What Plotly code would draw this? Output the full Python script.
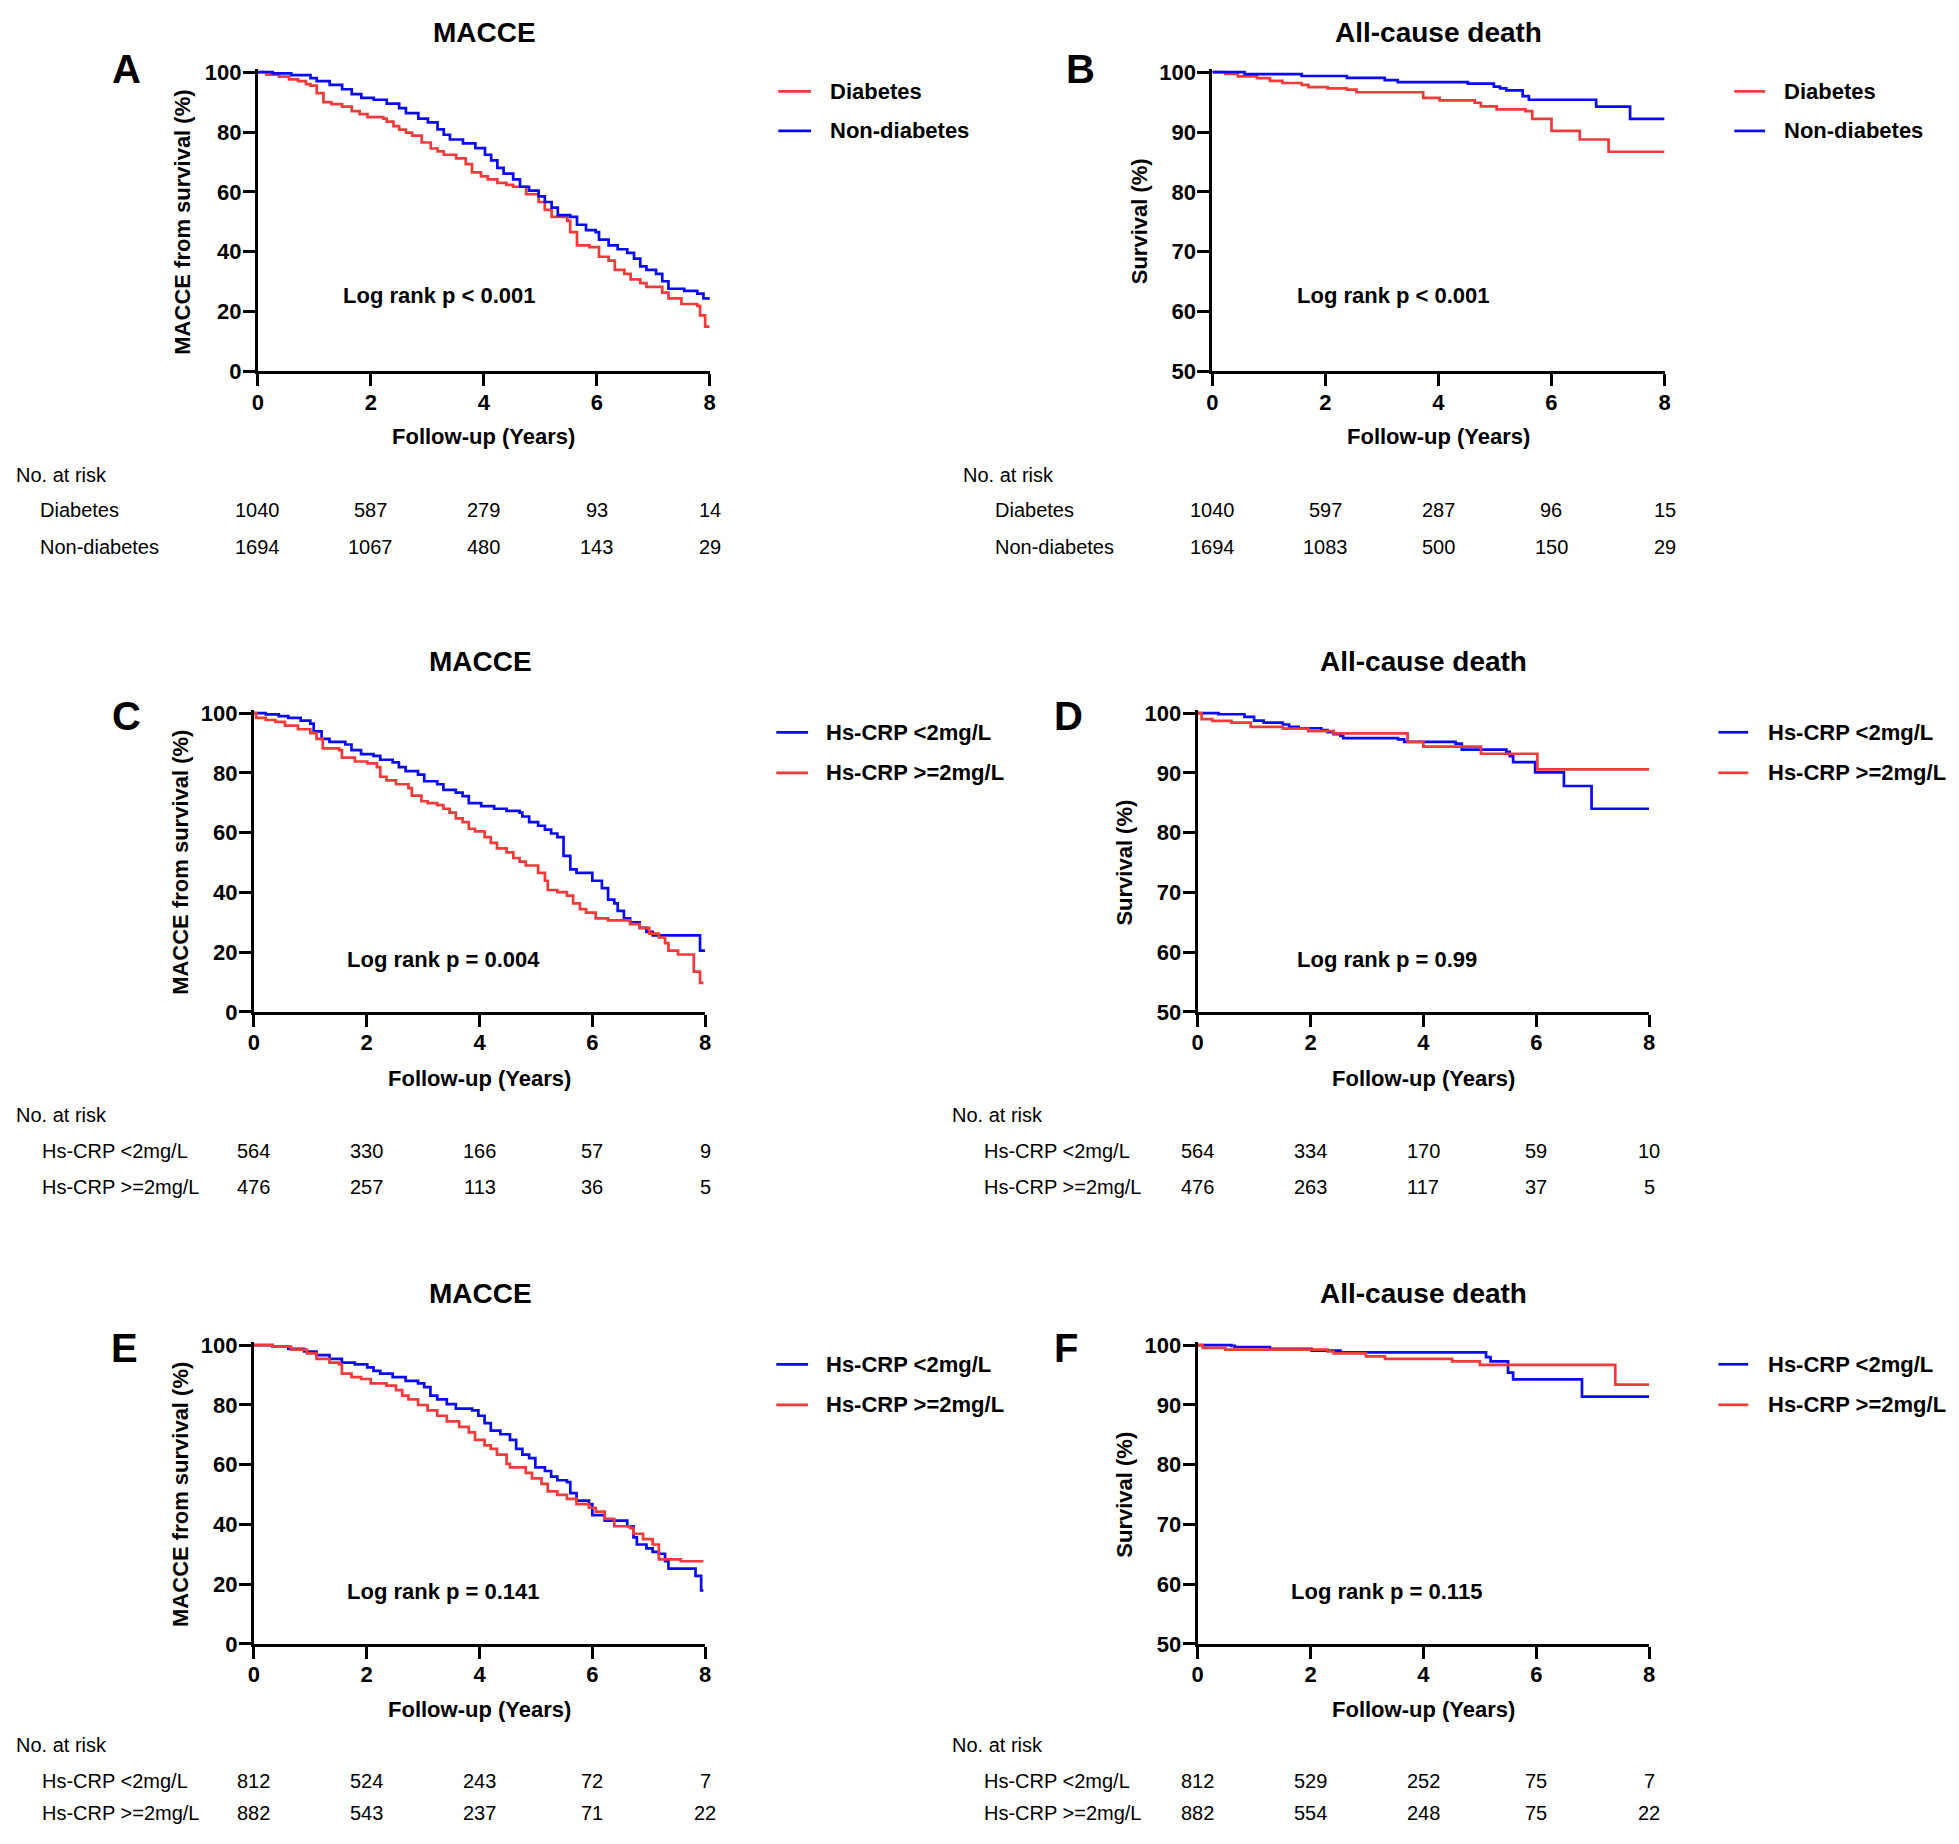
import plotly.graph_objects as go

W, H = 1959, 1844          # target page size
OFF = 8                    # default body margin of the page
FW, FH = 1943, 1828        # figure size so that figure + margins fits the page exactly
RED = "#F23A3A"
BLUE = "#0A0AF5"
FONT = "Liberation Sans, Arial, Helvetica, sans-serif"

TIME_TICKS = [0, 2, 4, 6, 8]

# ---------------- Panel A : MACCE, diabetes vs non-diabetes ----------------
A_DIAB_T = [0, 0.15, 0.37, 0.55, 0.71, 0.85, 0.93, 1.04, 1.16, 1.3, 1.49, 1.66, 1.8, 1.94, 2.22, 2.28,
            2.4, 2.5, 2.62, 2.73, 2.9, 3.06, 3.18, 3.29, 3.51, 3.68, 3.79, 3.95, 4.07, 4.24, 4.4, 4.52,
            4.75, 4.97, 5.08, 5.2, 5.48, 5.53, 5.65, 5.87, 6.04, 6.21, 6.32, 6.49, 6.6, 6.77, 6.88, 7.16,
            7.27, 7.5, 7.78, 7.83, 7.92, 8.0]
A_DIAB_S = [100, 99.2, 98.5, 97.6, 97, 96, 95.5, 93, 90, 89.3, 88.5, 87, 86, 85, 84.5, 83.5,
            82, 80.8, 79.8, 78.8, 76.5, 74.5, 73.5, 72.4, 71.2, 69.3, 66.5, 65.2, 64.2, 63, 62.3, 61.7,
            59.2, 56.6, 54, 51.6, 50.3, 46.5, 42.1, 41.5, 38.3, 37, 33.9, 32.6, 30.7, 29.5, 28.2, 26.3,
            24.4, 22.5, 21.9, 18.7, 14.9, 14.9]
A_NOND_T = [0, 0.26, 0.59, 0.93, 1.04, 1.27, 1.49, 1.66, 1.83, 2.05, 2.28, 2.5, 2.62, 2.84, 3.01, 3.18,
            3.29, 3.4, 3.63, 3.85, 4.02, 4.13, 4.24, 4.35, 4.52, 4.64, 4.8, 4.97, 5.08, 5.2, 5.31, 5.53,
            5.65, 5.81, 5.98, 6.04, 6.21, 6.37, 6.54, 6.66, 6.77, 6.88, 7.05, 7.16, 7.27, 7.55, 7.78,
            7.89, 8.0]
A_NOND_S = [100, 99.6, 99, 98, 97, 95.8, 94.3, 92.7, 91.4, 90.8, 89.5, 88, 86.3, 84.5, 83.2, 80.9,
            79.1, 77.5, 76.2, 74.6, 72.4, 70.5, 68, 66.1, 64.2, 61.7, 60.4, 58.5, 56.6, 54.7, 52.2, 51.6,
            49, 47.2, 46.5, 44, 42.1, 40.8, 39.6, 37.7, 35.1, 33.9, 32.6, 30.1, 27.6, 26.9, 26,
            24.4, 23.8]

# ---------------- Panel B : all-cause death, diabetes vs non-diabetes ----------------
B_DIAB_T = [0, 0.23, 0.45, 0.79, 1.02, 1.24, 1.58, 1.7, 2.04, 2.38, 2.55, 3.73, 4.02, 4.64, 4.75, 5.03,
            5.54, 5.66, 6.0, 6.5, 7.01, 8.0]
B_DIAB_S = [100, 99.7, 99.3, 99.0, 98.55, 98.2, 97.9, 97.5, 97.3, 97.1, 96.65, 95.7, 95.3, 94.9, 94.3, 93.8,
            93.5, 92.2, 90.2, 88.75, 86.7, 86.7]
B_NOND_T = [0, 0.57, 1.58, 2.38, 3.05, 3.28, 4.52, 4.98, 5.09, 5.2, 5.49, 5.6, 6.79, 7.39, 8.0]
B_NOND_S = [100, 99.68, 99.37, 99.05, 98.67, 98.36, 98.1, 97.6, 97.3, 96.97, 96.0, 95.4, 94.25, 92.2, 92.2]

# ---------------- Panel C : MACCE, Hs-CRP groups ----------------
C_LOW_T = [0, 0.21, 0.44, 0.61, 0.83, 1.0, 1.06, 1.2, 1.34, 1.62, 1.73, 1.9, 2.12, 2.24, 2.46, 2.57,
           2.69, 2.91, 3.02, 3.25, 3.36, 3.58, 3.7, 3.81, 4.03, 4.26, 4.48, 4.71, 4.76, 4.88, 5.04, 5.16,
           5.27, 5.38, 5.49, 5.61, 5.72, 6.0, 6.17, 6.28, 6.39, 6.45, 6.56, 6.67, 6.84, 6.96, 7.07, 7.91,
           8.0]
C_LOW_S = [100, 99.6, 99.0, 98.4, 97.5, 96.5, 93.9, 91.4, 90.4, 89.5, 87.6, 86.3, 85.7, 84.4, 83.5, 81.9,
           80.6, 79.4, 77.2, 76.2, 74.3, 73.4, 72.2, 69.9, 68.9, 68.0, 67.3, 66.7, 65.4, 63.5, 62.3, 61.0,
           59.7, 58.5, 52.2, 47.7, 46.5, 43.9, 41.4, 37.6, 36.3, 33.8, 31.3, 30.0, 28.1, 26.8, 25.6, 20.5,
           20.5]
C_HIGH_T = [0, 0.04, 0.21, 0.38, 0.55, 0.78, 1.0, 1.11, 1.22, 1.51, 1.56, 1.79, 2.01, 2.18, 2.24, 2.35,
            2.52, 2.74, 2.8, 2.97, 3.08, 3.25, 3.36, 3.47, 3.58, 3.7, 3.81, 3.92, 4.09, 4.2, 4.31, 4.48,
            4.6, 4.71, 4.82, 5.04, 5.16, 5.21, 5.38, 5.55, 5.66, 5.78, 5.89, 6.06, 6.28, 6.67, 6.84, 7.01,
            7.18, 7.29, 7.35, 7.52, 7.8, 7.91, 7.97]
C_HIGH_S = [100, 98.4, 97.7, 97.1, 95.8, 94.6, 93.3, 91.4, 88.2, 87.6, 85.1, 83.8, 83.2, 81.9, 78.7, 77.5,
            76.2, 74.9, 72.4, 70.5, 69.9, 69.2, 68.0, 66.7, 64.8, 63.5, 61.3, 60.4, 58.5, 56.6, 54.7, 53.4,
            51.5, 50.3, 49.0, 46.5, 43.9, 40.8, 40.1, 38.9, 36.3, 34.4, 33.2, 31.3, 30.6, 29.4, 28.1, 26.2,
            24.9, 23.0, 20.5, 19.2, 13.5, 9.7, 9.7]

# ---------------- Panel D : all-cause death, Hs-CRP groups ----------------
D_LOW_T = [0, 0.37, 0.83, 1.0, 1.17, 1.51, 1.62, 1.79, 2.19, 2.3, 2.41, 2.53, 2.58, 3.55, 3.66, 4.57,
           4.68, 5.47, 5.53, 5.59, 5.98, 6.49, 6.98, 8.0]
D_LOW_S = [100, 99.81, 99.37, 98.73, 98.42, 98.1, 97.7, 97.47, 97.15, 96.8, 96.5, 96.2, 95.8, 95.6, 95.2, 94.9,
           93.9, 93.5, 92.8, 91.8, 90.1, 87.8, 84.0, 84.0]
D_HIGH_T = [0, 0.07, 0.26, 0.6, 0.94, 1.51, 1.96, 2.41, 3.72, 4.0, 5.02, 6.02, 8.0]
D_HIGH_S = [100, 99.0, 98.7, 98.4, 97.7, 97.4, 97.0, 96.6, 95.2, 94.4, 93.2, 90.6, 90.6]

# ---------------- Panel E : MACCE, Hs-CRP groups ----------------
E_LOW_T = [0, 0.33, 0.61, 0.89, 1.11, 1.34, 1.56, 1.79, 2.01, 2.12, 2.24, 2.46, 2.69, 2.91, 3.02, 3.13,
           3.25, 3.42, 3.58, 3.87, 3.98, 4.09, 4.2, 4.37, 4.54, 4.65, 4.76, 4.88, 4.99, 5.16, 5.27, 5.38,
           5.55, 5.61, 5.72, 5.94, 6.0, 6.22, 6.62, 6.73, 6.79, 6.96, 7.07, 7.18, 7.29, 7.35, 7.83, 7.93,
           7.97]
E_LOW_S = [100, 99.5, 98.8, 97.9, 96.7, 95.4, 94.2, 93.6, 92.6, 91.4, 90.5, 89.3, 88.1, 87.2, 86.0, 83.1,
           81.9, 80.3, 78.8, 78.2, 76.4, 73.9, 71.4, 70.2, 68.3, 65.3, 63.4, 62.2, 59.1, 57.9, 56.0, 54.8,
           54.2, 50.5, 48.0, 46.8, 43.1, 41.3, 39.4, 35.7, 33.3, 32.0, 30.8, 30.2, 27.7, 25.2, 22.8, 17.9,
           17.9]
E_HIGH_T = [0, 0.33, 0.66, 0.94, 1.11, 1.34, 1.51, 1.56, 1.73, 1.9, 2.07, 2.35, 2.52, 2.63, 2.74, 2.91,
            3.08, 3.25, 3.42, 3.64, 3.81, 3.92, 4.09, 4.2, 4.31, 4.48, 4.54, 4.82, 4.93, 5.1, 5.21, 5.38,
            5.55, 5.72, 5.94, 6.06, 6.22, 6.39, 6.67, 6.73, 6.9, 7.07, 7.18, 7.57, 7.97]
E_HIGH_S = [100, 99.5, 98.5, 97.3, 95.4, 94.2, 93.6, 90.5, 89.3, 88.7, 87.2, 86.5, 85.0, 83.1, 81.9, 80.0,
            78.2, 76.4, 74.5, 72.7, 70.8, 68.3, 66.5, 65.3, 63.4, 60.3, 59.1, 57.3, 55.4, 53.6, 51.1, 49.9,
            48.6, 46.8, 45.6, 44.3, 41.9, 39.4, 38.8, 36.9, 35.1, 33.3, 28.3, 27.7, 27.7]

# ---------------- Panel F : all-cause death, Hs-CRP groups ----------------
F_LOW_T = [0, 0.6, 0.66, 1.28, 2.02, 2.53, 5.11, 5.19, 5.5, 5.59, 6.81, 8.0]
F_LOW_S = [100, 99.9, 99.7, 99.4, 99.1, 98.8, 98.0, 97.3, 95.4, 94.3, 91.4, 91.4]
F_HIGH_T = [0, 0.09, 0.49, 2.3, 2.41, 2.98, 3.32, 4.51, 5.0, 7.4, 8.0]
F_HIGH_S = [100, 99.57, 99.26, 98.95, 98.65, 98.15, 97.7, 97.3, 96.7, 93.4, 93.4]

# ---------------- Numbers at risk ----------------
A_RISK_DIAB = [1040, 587, 279, 93, 14]
A_RISK_NOND = [1694, 1067, 480, 143, 29]
B_RISK_DIAB = [1040, 597, 287, 96, 15]
B_RISK_NOND = [1694, 1083, 500, 150, 29]
C_RISK_LOW = [564, 330, 166, 57, 9]
C_RISK_HIGH = [476, 257, 113, 36, 5]
D_RISK_LOW = [564, 334, 170, 59, 10]
D_RISK_HIGH = [476, 263, 117, 37, 5]
E_RISK_LOW = [812, 524, 243, 72, 7]
E_RISK_HIGH = [882, 543, 237, 71, 22]
F_RISK_LOW = [812, 529, 252, 75, 7]
F_RISK_HIGH = [882, 554, 248, 75, 22]

LBL_DIAB, LBL_NOND = "Diabetes", "Non-diabetes"
LBL_LOW, LBL_HIGH = "Hs-CRP <2mg/L", "Hs-CRP >=2mg/L"
T_MACCE, T_DEATH = "MACCE", "All-cause death"
Y_MACCE, Y_DEATH = "MACCE from survival (%)", "Survival (%)"
X_TITLE = "Follow-up (Years)"

panels = [
    dict(letter="A", title=T_MACCE, ytitle=Y_MACCE, yr=(0, 100), dt=20, p="Log rank p < 0.001",
         series=[(LBL_DIAB, A_DIAB_T, A_DIAB_S, RED), (LBL_NOND, A_NOND_T, A_NOND_S, BLUE)],
         risk=[(LBL_DIAB, A_RISK_DIAB), (LBL_NOND, A_RISK_NOND)],
         g=dict(x0=253.5, x1=708, yt=63.9, yb=366.6, title=(481, 23.5), let=(121, 61), ytx=178, xty=432.5,
                lr=(436, 290), lg=(777, 810, 828, 83.3, 123.3), rk=(1.7, 33.3, 471.7, 506.5, 544.5))),
    dict(letter="B", title=T_DEATH, ytitle=Y_DEATH, yr=(50, 100), dt=10, p="Log rank p < 0.001",
         series=[(LBL_DIAB, B_DIAB_T, B_DIAB_S, RED), (LBL_NOND, B_NOND_T, B_NOND_S, BLUE)],
         risk=[(LBL_DIAB, B_RISK_DIAB), (LBL_NOND, B_RISK_NOND)],
         g=dict(x0=1213.8, x1=1668.8, yt=63.9, yb=366.6, title=(1441, 23.5), let=(1081, 61), ytx=1140.5, xty=432.5,
                lr=(1396, 290), lg=(1739, 1770, 1788, 83.3, 123.3), rk=(961, 993.8, 471.7, 506.5, 544.5))),
    dict(letter="C", title=T_MACCE, ytitle=Y_MACCE, yr=(0, 100), dt=20, p="Log rank p = 0.004",
         series=[(LBL_LOW, C_LOW_T, C_LOW_S, BLUE), (LBL_HIGH, C_HIGH_T, C_HIGH_S, RED)],
         risk=[(LBL_LOW, C_RISK_LOW), (LBL_HIGH, C_RISK_HIGH)],
         g=dict(x0=249.4, x1=703.4, yt=712.6, yb=1015, title=(477, 660), let=(121, 716), ytx=175.4, xty=1082,
                lr=(440, 961.7), lg=(775, 807, 824, 732, 773), rk=(0, 35, 1119.5, 1155.7, 1192))),
    dict(letter="D", title=T_DEATH, ytitle=Y_DEATH, yr=(50, 100), dt=10, p="Log rank p = 0.99",
         series=[(LBL_LOW, D_LOW_T, D_LOW_S, BLUE), (LBL_HIGH, D_HIGH_T, D_HIGH_S, RED)],
         risk=[(LBL_LOW, D_RISK_LOW), (LBL_HIGH, D_RISK_HIGH)],
         g=dict(x0=1199, x1=1653.3, yt=712.6, yb=1015, title=(1426, 660), let=(1069, 716), ytx=1125, xty=1082,
                lr=(1389.5, 961.7), lg=(1723, 1753, 1772, 732, 773), rk=(950, 983.5, 1119.5, 1155.7, 1192))),
    dict(letter="E", title=T_MACCE, ytitle=Y_MACCE, yr=(0, 100), dt=20, p="Log rank p = 0.141",
         series=[(LBL_LOW, E_LOW_T, E_LOW_S, BLUE), (LBL_HIGH, E_HIGH_T, E_HIGH_S, RED)],
         risk=[(LBL_LOW, E_RISK_LOW), (LBL_HIGH, E_RISK_HIGH)],
         g=dict(x0=249.4, x1=703.4, yt=1352.4, yb=1654.8, title=(477, 1300), let=(119, 1355), ytx=175.4, xty=1721,
                lr=(440, 1601.9), lg=(775, 807, 824, 1371.7, 1412.7), rk=(0, 35, 1757.5, 1793, 1826))),
    dict(letter="F", title=T_DEATH, ytitle=Y_DEATH, yr=(50, 100), dt=10, p="Log rank p = 0.115",
         series=[(LBL_LOW, F_LOW_T, F_LOW_S, BLUE), (LBL_HIGH, F_HIGH_T, F_HIGH_S, RED)],
         risk=[(LBL_LOW, F_RISK_LOW), (LBL_HIGH, F_RISK_HIGH)],
         g=dict(x0=1199, x1=1653.3, yt=1352.4, yb=1654.8, title=(1426, 1300), let=(1067, 1355), ytx=1125, xty=1721,
                lr=(1389.5, 1601.9), lg=(1723, 1753, 1772, 1371.7, 1412.7), rk=(950, 983.5, 1757.5, 1793, 1826))),
]


def px(x):
    return (x - OFF) / FW


def py(y):
    return 1 - (y - OFF) / FH


fig = go.Figure()
annotations = []
shapes = []
layout = {}

for i, pnl in enumerate(panels):
    n = i + 1
    sfx = "" if n == 1 else str(n)
    xa, ya = "x" + sfx, "y" + sfx
    g = pnl["g"]
    ymin, ymax = pnl["yr"]
    ppu = (g["yb"] - g["yt"]) / (ymax - ymin)
    pad = 3.0 / ppu
    top_px = g["yt"] - 3.0

    for name, t, s, col in pnl["series"]:
        fig.add_trace(go.Scatter(x=t, y=s, mode="lines", name=name, line=dict(color=col, width=2.7, shape="hv"),
                                 xaxis=xa, yaxis=ya, showlegend=False, hoverinfo="skip"))

    layout["xaxis" + sfx] = dict(domain=[px(g["x0"]), px(g["x1"])], anchor=ya, range=[0, 8],
                                 tickvals=TIME_TICKS, ticktext=[str(v) for v in TIME_TICKS],
                                 showline=True, linecolor="black", linewidth=3, ticks="outside",
                                 ticklen=12, tickwidth=3, tickcolor="black", showgrid=False, zeroline=False,
                                 tickfont=dict(family=FONT, size=22, color="black", weight="bold"),
                                 ticklabelstandoff=-3)
    yt = list(range(ymin, ymax + 1, pnl["dt"]))
    layout["yaxis" + sfx] = dict(domain=[py(g["yb"]), py(top_px)], anchor=xa, range=[ymin, ymax + pad],
                                 tickvals=yt, ticktext=[str(v) for v in yt],
                                 showline=True, linecolor="black", linewidth=3, ticks="outside",
                                 ticklen=12, tickwidth=3, tickcolor="black", showgrid=False, zeroline=False,
                                 tickfont=dict(family=FONT, size=22, color="black", weight="bold"),
                                 ticklabelstandoff=-3)

    def ann(text, x, y, size, bold=True, xanchor="center", angle=0, xref="paper", pad=1):
        annotations.append(dict(text=("<b>%s</b>" % text) if bold else text, x=x, y=y, xref=xref, yref="paper",
                                xanchor=xanchor, yanchor="middle", showarrow=False, textangle=angle,
                                borderpad=pad, font=dict(family=FONT, size=size, color="black")))

    ann(pnl["title"], px(g["title"][0]), py(g["title"][1]), 28, pad=0)
    ann(pnl["letter"], px(g["let"][0]), py(g["let"][1]), 40)
    ann(pnl["ytitle"], px(g["ytx"]), py((g["yt"] + g["yb"]) / 2), 22, angle=-90)
    ann(X_TITLE, px((g["x0"] + g["x1"]) / 2), py(g["xty"]), 22)
    ann(pnl["p"], px(g["lr"][0]), py(g["lr"][1]), 22)

    lx0, lx1, ltx, ly1, ly2 = g["lg"]
    for (name, t, s, col), ly in zip(pnl["series"], (ly1, ly2)):
        shapes.append(dict(type="line", xref="paper", yref="paper", x0=px(lx0), x1=px(lx1), y0=py(ly), y1=py(ly),
                           line=dict(color=col, width=2.7)))
        ann(name, px(ltx), py(ly), 22, xanchor="left", pad=0)

    rlx, rrx, ry0, ry1, ry2 = g["rk"]
    ann("No. at risk", px(max(rlx, OFF)), py(ry0), 20, bold=False, xanchor="left")
    for (name, vals), ry in zip(pnl["risk"], (ry1, ry2)):
        ann(name, px(rrx), py(ry), 20, bold=False, xanchor="left", pad=0)
        for tv, v in zip(TIME_TICKS, vals):
            ann(str(v), tv, py(ry), 20, bold=False, xref=xa, pad=0)

layout.update(dict(width=FW, height=FH, margin=dict(l=0, r=0, t=0, b=0), autosize=False,
                   paper_bgcolor="white", plot_bgcolor="white", showlegend=False,
                   annotations=annotations, shapes=shapes, font=dict(family=FONT, color="black")))
fig.update_layout(**layout)

fig.write_html("out.html", config={"displayModeBar": False})
